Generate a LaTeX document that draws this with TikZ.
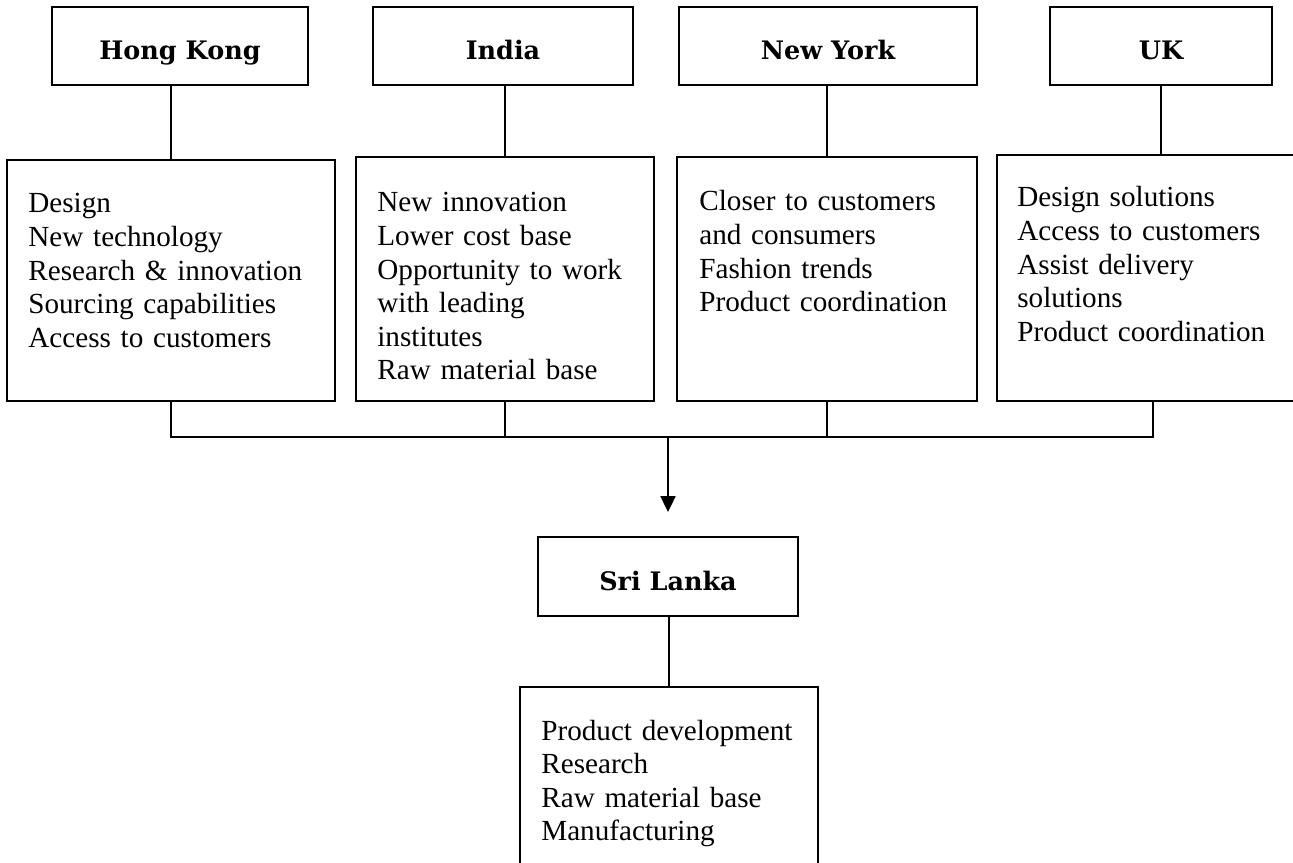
\documentclass[tikz,border=0pt]{standalone}
\usepackage{fontspec}
\setmainfont{Liberation Serif}
\newfontfamily\headfont{DejaVu Serif}
\usetikzlibrary{arrows.meta}

\tikzset{
	head/.style={draw, line width=1.1pt, minimum height=15.6mm, text height=5.6mm, text depth=0pt, font=\headfont\bfseries\fontsize{14.5}{17}\selectfont},
	panel/.style={draw, line width=1.1pt},
	items/.style={anchor=base west, inner sep=0pt, text width=58mm, align=left, font=\fontsize{16.6}{19.1}\selectfont},
	link/.style={line width=1.1pt},
}

\begin{document}
\begin{tikzpicture}[x=0.2mm, y=-0.2mm]
		\useasboundingbox (0,0) rectangle (1293,863);
		\node[head, minimum width=51.2mm] (hk) at (180,46) {Hong Kong};
		\node[head, minimum width=52mm] (ind) at (503,46) {India};
		\node[head, minimum width=59.6mm] (ny) at (828,46) {New York};
		\node[head, minimum width=44.4mm] (uk) at (1161,46) {UK};
		\node[panel, minimum width=65.6mm, minimum height=48.2mm] (hkbox) at (171,280.5) {};
		\node[panel, minimum width=59.6mm, minimum height=48.8mm] (indbox) at (505,279) {};
		\node[panel, minimum width=60mm, minimum height=48.8mm] (nybox) at (827,279) {};
		\node[panel, minimum width=62.4mm, minimum height=49.2mm] (ukbox) at (1153,278) {};
		\node[items] (hklist) at (28,213) {Design\\New technology\\Research \& innovation\\Sourcing capabilities\\Access to customers};
		\node[items] (indlist) at (377,212) {New innovation\\Lower cost base\\Opportunity to work\\with leading\\institutes\\Raw material base};
		\node[items] (nylist) at (699,211) {Closer to customers\\and consumers\\Fashion trends\\Product coordination};
		\node[items] (uklist) at (1017,207) {Design solutions\\Access to customers\\Assist delivery\\solutions\\Product coordination};
		\node[head, minimum width=52mm, minimum height=15.8mm] (sl) at (668,576.5) {Sri Lanka};
		\node[panel, minimum width=59.6mm, minimum height=42.6mm] (slbox) at (669,793.5) {};
		\node[items] (sllist) at (541,740) {Product development\\Research\\Raw material base\\Manufacturing};
		\coordinate (join) at (668,437);
		\coordinate (tip) at (668,512);
		\draw[link] (hkbox.north |- hk.south) -- (hkbox.north);
		\draw[link] (indbox.north |- ind.south) -- (indbox.north);
		\draw[link] (nybox.north |- ny.south) -- (nybox.north);
		\draw[link] (uk.south) -- (uk.south |- ukbox.north);
		\draw[link] (hkbox.south) -- (hkbox.south |- join) -- (ukbox.south |- join) -- (ukbox.south);
		\draw[link] (indbox.south) -- (indbox.south |- join);
		\draw[link] (nybox.south) -- (nybox.south |- join);
		\draw[link, -{Triangle[length=9pt, width=8.5pt]}] (join) -- (tip);
		\draw[link] (slbox.north |- sl.south) -- (slbox.north);
		\end{tikzpicture}
\end{document}
